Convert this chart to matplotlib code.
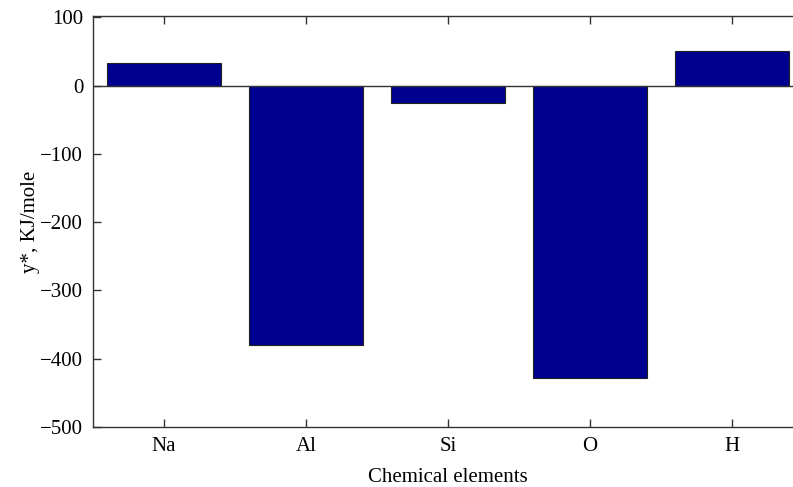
import numpy as np
import matplotlib
matplotlib.use("Agg")
import matplotlib.pyplot as plt

# Energy contribution per chemical element
elements = ["Na", "Al", "Si", "O", "H"]
energy = [33, -380, -25, -428, 51]

plt.rcParams['font.family'] = ['Liberation Serif', 'DejaVu Serif']

fig = plt.figure(figsize=(7.93, 4.87), dpi=100)
ax = fig.add_axes([0.1173, 0.1232, 0.8953, 0.8438])

x = np.arange(1, len(elements) + 1)
ax.bar(x, energy, width=0.8, color='#000090', edgecolor='#202020', linewidth=0.8, zorder=2)
ax.axhline(0, color='#333333', linewidth=1.0, zorder=3)

ax.set_xlim(0.5, 5.5)
ax.set_ylim(-500, 102)
ax.set_xticks(x)
ax.set_xticklabels(elements)
ax.set_yticks([100, 0, -100, -200, -300, -400, -500])
ax.set_yticklabels(['100', '0', '\u2212100', '\u2212200', '\u2212300', '\u2212400', '\u2212500'])

ax.tick_params(direction='in', length=6, width=1, colors='#333333', labelcolor='black',
               labelsize=15, top=True, right=False, pad=7)

for side in ['left', 'bottom', 'top']:
    ax.spines[side].set_color('#333333')
    ax.spines[side].set_linewidth(1.0)
ax.spines['right'].set_visible(False)

ax.set_xlabel('Chemical elements', fontsize=15, labelpad=9)
ax.set_ylabel('y*, KJ/mole', fontsize=15, labelpad=0)

fig.savefig('out.png', dpi=100)
